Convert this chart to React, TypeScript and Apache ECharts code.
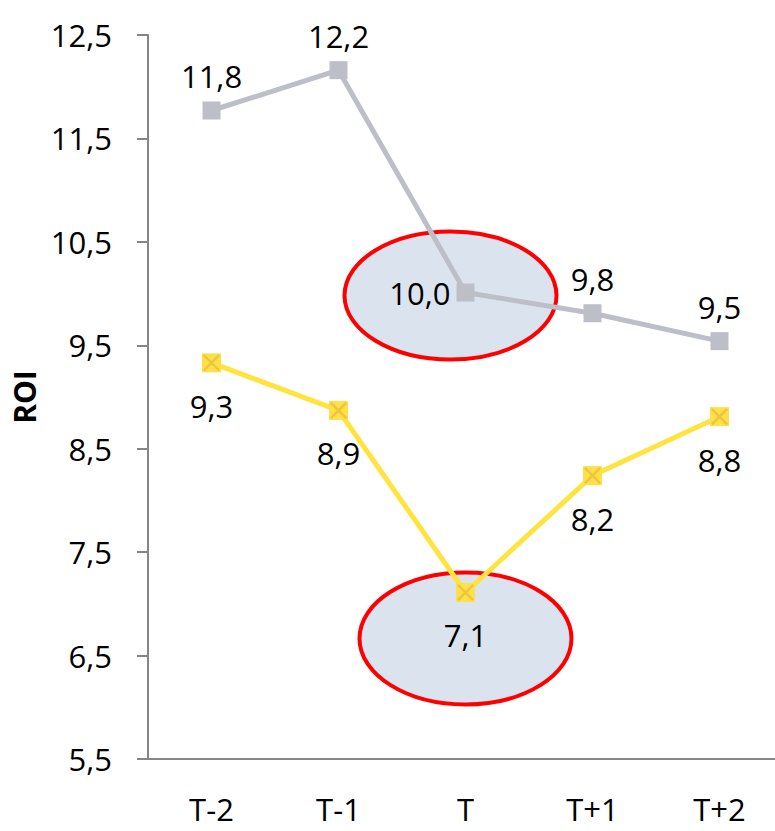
import React, { useEffect, useRef } from "react";
import * as echarts from "echarts";

const categories = ["T-2", "T-1", "T", "T+1", "T+2"];
const grayValues = [11.77, 12.16, 10.01, 9.81, 9.54];
const yellowValues = [9.33, 8.87, 7.11, 8.24, 8.81];
const yTicks = { min: 5.5, max: 12.5, interval: 1 };
const highlightIndex = 2;

const FONT = "Open Sans";
const FS = 31;
const fmt = (v: number) => v.toFixed(1).replace(".", ",");

export default function App() {
  const ref = useRef<HTMLDivElement>(null);
  useEffect(() => {
    document.body.style.margin = "0";
    const chart = echarts.init(ref.current!, null, { renderer: "svg" });
    const option: any = {
      animation: false,
      grid: {
        left: 148,
        top: 35,
        bottom: 72,
        width: 635,
        containLabel: false,
        outerBoundsMode: "none",
      },
      xAxis: {
        type: "category",
        data: categories,
        boundaryGap: true,
        axisLine: { show: true, lineStyle: { color: "#868686", width: 2 } },
        axisTick: { show: false },
        axisLabel: {
          color: "#000",
          fontFamily: FONT,
          fontSize: FS,
          lineHeight: 26,
          margin: 37,
        },
      },
      yAxis: {
        type: "value",
        min: yTicks.min,
        max: yTicks.max,
        interval: yTicks.interval,
        name: "ROI",
        nameLocation: "middle",
        nameRotate: 90,
        nameGap: 109,
        nameMoveOverlap: false,
        nameTextStyle: { color: "#000", fontFamily: FONT, fontSize: 30, fontWeight: "bold" },
        axisLine: { show: true, lineStyle: { color: "#868686", width: 2 } },
        axisTick: { show: true, length: 11, lineStyle: { color: "#868686", width: 2 } },
        splitLine: { show: false },
        axisLabel: {
          color: "#000",
          fontFamily: FONT,
          fontSize: FS,
          margin: 36,
          formatter: (v: number) => fmt(v),
        },
      },
      series: [
        {
          type: "line",
          data: grayValues.map((v, i) =>
            i === highlightIndex
              ? { value: v, label: { position: "left", distance: 6 } }
              : v
          ),
          symbol: "rect",
          symbolSize: 18,
          itemStyle: { color: "#bcbfc8" },
          lineStyle: { color: "#bcbfc8", width: 5 },
          z: 3,
          label: {
            show: true,
            position: "top",
            distance: 10,
            color: "#000",
            fontFamily: FONT,
            fontSize: FS,
            formatter: (p: any) => fmt(p.value),
          },
        },
        {
          type: "line",
          data: yellowValues,
          symbol: "rect",
          symbolSize: 19,
          itemStyle: { color: "#fde04a" },
          lineStyle: { color: "#ffe33f", width: 5 },
          z: 3,
          label: {
            show: true,
            position: "bottom",
            distance: 18,
            color: "#000",
            fontFamily: FONT,
            fontSize: FS,
            formatter: (p: any) => fmt(p.value),
          },
        },
        {
          type: "line",
          data: yellowValues,
          symbol: "path://M0,1 L1,0 L10,9 L9,10 Z M9,0 L10,1 L1,10 L0,9 Z",
          symbolSize: 17,
          itemStyle: { color: "#f0c43a" },
          lineStyle: { opacity: 0, width: 0 },
          silent: true,
          z: 4,
        },
      ],
    };
    chart.setOption(option);
    const pG = chart.convertToPixel({ xAxisIndex: 0, yAxisIndex: 0 }, [
      highlightIndex,
      grayValues[highlightIndex],
    ]) as number[];
    const pY = chart.convertToPixel({ xAxisIndex: 0, yAxisIndex: 0 }, [
      highlightIndex,
      yellowValues[highlightIndex],
    ]) as number[];
    chart.setOption({
      graphic: [
        {
          type: "ellipse",
          z: 1,
          shape: { cx: pG[0] - 15, cy: pG[1] + 3, rx: 106, ry: 64 },
          style: { fill: "#dbe3ef", stroke: "#ff0000", lineWidth: 4 },
        },
        {
          type: "ellipse",
          z: 1,
          shape: { cx: pY[0], cy: pY[1] + 46, rx: 106, ry: 66 },
          style: { fill: "#dbe3ef", stroke: "#ff0000", lineWidth: 4 },
        },
      ],
    });
    return () => chart.dispose();
  }, []);
  return <div ref={ref} style={{ width: 775, height: 831 }} />;
}
